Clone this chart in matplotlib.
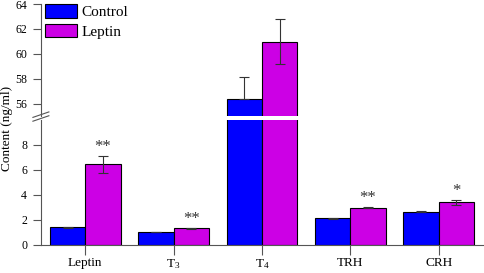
import matplotlib
matplotlib.use("Agg")
import matplotlib.pyplot as plt
import numpy as np

plt.rcParams['font.family'] = ['Liberation Serif', 'DejaVu Serif']
plt.rcParams['mathtext.fontset'] = 'custom'
plt.rcParams['mathtext.rm'] = 'Liberation Serif'
plt.rcParams['mathtext.it'] = 'Liberation Serif:italic'

# data
categories = ['Leptin', r'T$_3$', r'T$_4$', 'TRH', 'CRH']
control = [1.41, 1.04, 56.35, 2.13, 2.67]
control_err_lo = [0.04, 0.03, 0.0, 0.05, 0.07]
control_err_hi = [0.04, 0.03, 1.75, 0.05, 0.07]
leptin = [6.45, 1.33, 60.98, 2.98, 3.41]
leptin_err = [0.67, 0.05, 1.8, 0.06, 0.2]
stars = ['**', '**', '', '**', '*']

blue = '#0000FF'
magenta = '#CC00E5'

fig = plt.figure(figsize=(4.84, 2.73), dpi=100)
ax_top = fig.add_axes([0.0847, 0.575, 0.913, 0.410])
ax_bot = fig.add_axes([0.0847, 0.1026, 0.913, 0.458])

x = np.arange(len(categories))
w = 0.4

for ax in (ax_top, ax_bot):
    ax.bar(x - w / 2, control, w, color=blue, edgecolor='black', linewidth=0.8,
           label='Control', zorder=2)
    ax.bar(x + w / 2, leptin, w, color=magenta, edgecolor='black', linewidth=0.8,
           label='Leptin', zorder=2)
    ax.errorbar(x - w / 2, control, yerr=[control_err_lo, control_err_hi], fmt='none',
                ecolor='#333333', elinewidth=0.8, capsize=3.5, capthick=0.8, zorder=3)
    ax.errorbar(x + w / 2, leptin, yerr=leptin_err, fmt='none',
                ecolor='#333333', elinewidth=0.8, capsize=3.5, capthick=0.8, zorder=3)
    ax.set_xlim(-0.5, 4.5)
    for s in ('top', 'right'):
        ax.spines[s].set_visible(False)
    ax.spines['left'].set_color('#555555')
    ax.spines['bottom'].set_color('#555555')
    ax.tick_params(axis='y', length=6, width=0.8, color='#555555', labelsize=8.5, pad=4)

ax_top.set_ylim(55, 64)
ax_top.set_yticks([56, 58, 60, 62, 64])
ax_top.spines['bottom'].set_visible(False)
ax_top.set_xticks([])

ax_bot.set_ylim(0, 10)
ax_bot.set_yticks([0, 2, 4, 6, 8])
ax_bot.set_xticks(x)
ax_bot.set_xticklabels(categories, fontsize=9.5)
ax_bot.tick_params(axis='x', length=7, width=0.8, color='#555555', pad=2)

# significance marks
for i, s in enumerate(stars):
    if s and leptin[i] < 10:
        ax_bot.text(x[i] + w / 2, leptin[i] + leptin_err[i] + 0.05, s,
                    ha='center', va='bottom', fontsize=12, color='#333333')

# axis break marks
for yy in (0.566, 0.580):
    fig.add_artist(plt.Line2D([0.068, 0.101], [yy - 0.010, yy + 0.010],
                              color='#555555', linewidth=0.8))

fig.text(0.014, 0.53, 'Content (ng/ml)', rotation=90, ha='center', va='center',
         fontsize=9.5)

ax_top.legend(loc='upper left', bbox_to_anchor=(0.092, 0.985),
              bbox_transform=fig.transFigure, frameon=False, fontsize=11,
              handlelength=2.1, handleheight=1.0, handletextpad=0.3,
              labelspacing=0.3, borderpad=0, borderaxespad=0)

fig.savefig('out.png', dpi=100)
